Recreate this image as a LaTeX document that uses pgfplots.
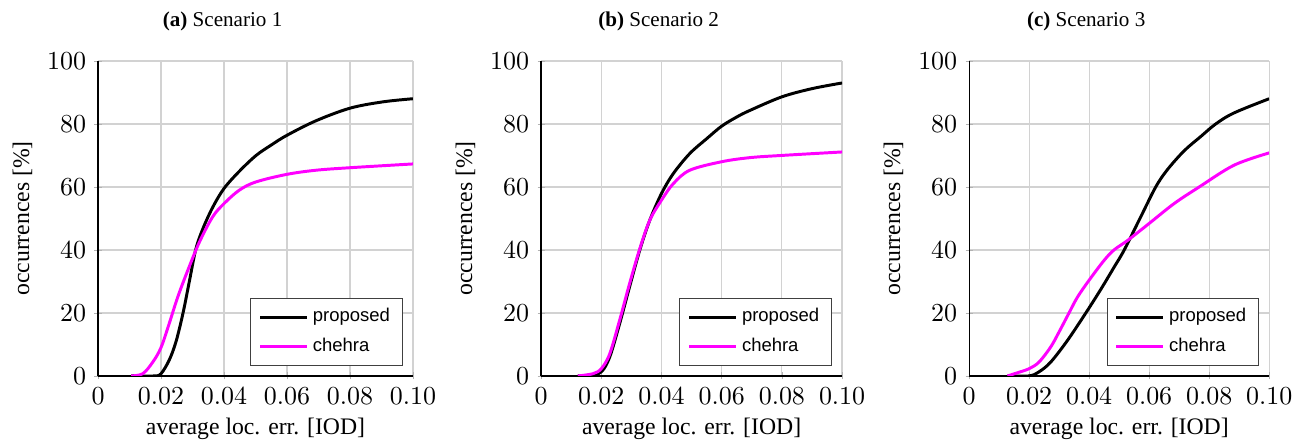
\documentclass[border=0pt]{standalone}
\usepackage{fontspec}
\setmainfont{Liberation Serif}
\newfontfamily\legfont{Liberation Sans}
\usepackage{pgfplots}
\pgfplotsset{compat=1.18}
\definecolor{mag}{RGB}{255,0,255}

\pgfplotsset{
  cdf/.style={
    scale only axis,
    height=132.9pt,
    xmin=0, xmax=0.1, ymin=0, ymax=100,
    axis x line=bottom, axis y line=left,
    axis line style={-, black, line width=0.5pt},
    xtick={0,0.02,0.04,0.06,0.08,0.1},
    xticklabels={$0$,$0.02$,$0.04$,$0.06$,$0.08$,$0.10$},
    ytick={0,20,40,60,80,100},
    tick label style={font=\fontsize{10.8}{12}\selectfont},
    tick style={gray!60},
    major tick length=3pt,
    grid=major,
    major grid style={gray!35, line width=0.5pt},
    xlabel={average loc. err. [IOD]},
    ylabel={occurrences [$\%$]},
    label style={font=\fontsize{10}{12}\selectfont},
    xlabel style={at={(axis description cs:0.5,0)}, anchor=base, yshift=-24.9pt},
    title style={font=\fontsize{8.9}{10}\selectfont, at={(axis description cs:0.5,1)}, anchor=base, yshift=8.4pt, xshift=-13.9pt},
    legend cell align=left,
    legend style={at={(axis description cs:1,0)}, anchor=south east,
      xshift=-4.2pt, yshift=4.2pt, draw=black!75,
      font=\legfont\fontsize{7.8}{9}\selectfont,
      inner xsep=3.3pt, inner ysep=2.4pt, row sep=1.3pt,
      nodes={inner sep=2pt, text depth=0.15em}},
    legend image code/.code={\draw[#1] (0cm,0cm) -- (0.69cm,0cm);},
  },
  prop/.style={black, line width=1.25pt, smooth, tension=0.55},
  cheh/.style={mag, line width=1.25pt, smooth, tension=0.55},
}

\begin{document}
\begin{tikzpicture}
\useasboundingbox (0,0) rectangle (546.4pt,187.3pt);

\begin{axis}[cdf, at={(41.35pt,28.69pt)}, anchor=south west, width=132.9pt,
  ylabel style={at={(axis description cs:-0.219,0.5)}, anchor=base},
  title={\textbf{(a)} Scenario 1}]
\addplot[prop] coordinates {(0.0105,0) (0.018,0) (0.02,0.7) (0.0226,5) (0.0248,11) (0.0270,20) (0.029,30) (0.031,40) (0.0332,46.5) (0.0364,53.5) (0.04,59.5) (0.0449,65) (0.0502,70) (0.055,73.3) (0.06,76.4) (0.0692,81) (0.08,85) (0.0904,87) (0.1,88)};
\addlegendentry{proposed}
\addplot[cheh] coordinates {(0.0105,0) (0.0142,0.7) (0.0174,4.4) (0.02,9) (0.0226,16.6) (0.0253,25) (0.0285,33.5) (0.0322,42.5) (0.0364,50.5) (0.04,54.7) (0.0449,59) (0.0502,61.6) (0.06,64) (0.0692,65.3) (0.08,66.1) (0.1,67.3)};
\addlegendentry{chehra}
\end{axis}

\begin{axis}[cdf, at={(228.3pt,28.69pt)}, anchor=south west, width=127.0pt,
  ylabel style={at={(axis description cs:-0.229,0.5)}, anchor=base},
  title={\textbf{(b)} Scenario 2}]
\addplot[prop] coordinates {(0.0122,0) (0.016,0) (0.02,1.3) (0.0228,6) (0.0261,16.6) (0.0294,28.3) (0.0328,40) (0.0361,49.4) (0.04,57.9) (0.0439,64.2) (0.0494,70.6) (0.055,75.3) (0.06,79.3) (0.065,82.2) (0.0694,84.3) (0.08,88.6) (0.09,91.2) (0.1,93)};
\addlegendentry{proposed}
\addplot[cheh] coordinates {(0.0122,0) (0.0172,0.7) (0.02,2.3) (0.0228,7) (0.0261,17.7) (0.0294,29.3) (0.0328,40.4) (0.0361,49.4) (0.04,55.8) (0.0439,61) (0.0494,65.3) (0.06,68) (0.0694,69.3) (0.08,70) (0.1,71.1)};
\addlegendentry{chehra}
\end{axis}

\begin{axis}[cdf, at={(408.9pt,28.69pt)}, anchor=south west, width=126.6pt,
  ylabel style={at={(axis description cs:-0.230,0.5)}, anchor=base},
  title={\textbf{(c)} Scenario 3}]
\addplot[prop] coordinates {(0.0128,0) (0.02,0) (0.0233,1.3) (0.0272,4.4) (0.0328,11.3) (0.0389,20) (0.0439,27.5) (0.0483,34.5) (0.0517,40) (0.0572,50.5) (0.0622,60) (0.0661,65.5) (0.0717,71.5) (0.0772,76) (0.0822,80) (0.0883,83.5) (0.1,88)};
\addlegendentry{proposed}
\addplot[cheh] coordinates {(0.0128,0) (0.0161,1) (0.02,2.3) (0.0233,4.4) (0.0272,9.2) (0.0300,14) (0.0333,20) (0.0361,25) (0.04,30.4) (0.045,36.7) (0.0483,40) (0.0528,43) (0.06,48.4) (0.0683,54.7) (0.0767,60) (0.0883,66.9) (0.1,70.8)};
\addlegendentry{chehra}
\end{axis}
\end{tikzpicture}
\end{document}
